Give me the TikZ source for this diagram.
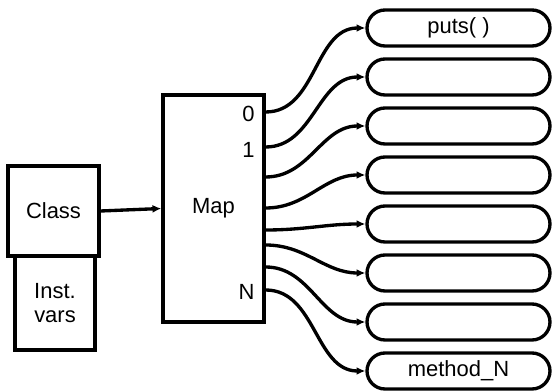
\documentclass[tikz,border=0pt]{standalone}
\usepackage{fontspec}
\setmainfont{Liberation Sans}
\usetikzlibrary{shapes.misc,arrows.meta}
\begin{document}
\begin{tikzpicture}[x=0.02cm,y=-0.02cm,line width=1.9pt,>={Latex[length=5pt,width=4.5pt]},font=\fontsize{12.5}{14}\selectfont,
  method/.style={draw,rounded rectangle,minimum width=3.66cm,minimum height=0.72cm,inner sep=0pt}]
  \useasboundingbox (0,0) rectangle (552,391);
  \node[draw,minimum width=1.6cm,minimum height=1.88cm,align=center] (inst) at (55,303) {Inst.\\vars};
  \node[draw,fill=white,minimum width=1.82cm,minimum height=1.8cm] (class) at (53.5,211) {Class};
  \node[draw,minimum width=2.02cm,minimum height=4.54cm] (map) at (213.5,208.5) {Map};
  \draw[->] (class.east) -- (map.west);
  \node[anchor=east] (l0) at (262,114) {0}; \node[anchor=east] (l1) at (262,150) {1}; \node[anchor=east] (lN) at (262,292) {N};
  \foreach \i/\s/\txt in {1/112/{puts( )},2/147/{},3/177/{},4/208/{},5/230/{},6/245/{},7/267/{},8/290/{method\_N}} {
    \node[method] (m\i) at (458.5,{28+49*(\i-1)}) {\txt};
    \coordinate (s\i) at (map.east |- 0,\s);
    \draw[->] (s\i) to[out=0,in=180] (m\i.west);
  }
\end{tikzpicture}
\end{document}
